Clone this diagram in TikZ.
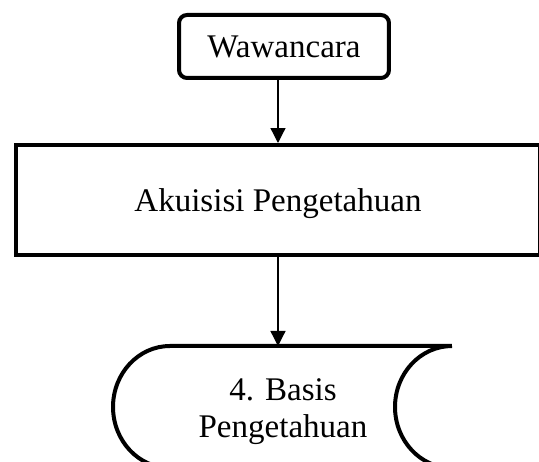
\documentclass[tikz,border=0pt]{standalone}
\usepackage{fontspec}
\setmainfont{Liberation Serif}
\usetikzlibrary{
		arrows.meta,
		positioning
	}
\tikzset{
		>={Triangle[length=3mm,width=3mm]},
		box/.style={draw, line width=0.08cm, inner sep=0pt, align=center,
			font=\fontsize{18.8}{21}\selectfont},
		flow/.style={->, line width=0.75pt}
	}

\begin{document}
\begin{tikzpicture}[x=0.02cm, y=0.02cm]
    % page area, everything outside is cut away
    \useasboundingbox (0,0) rectangle (539,462);
    \clip (0,0) rectangle (539,462);

    % the process boxes
    \node[box, rounded corners=0.16cm, minimum width=4.2cm, minimum height=1.26cm]
        (wwc) at (284,415.5) {Wawancara};
    \node[box, text depth=0pt, minimum width=10.48cm, minimum height=2.2cm]
        (akp) at (278,262) {Akuisisi Pengetahuan};

    % the stored data symbol (drawn by hand, its top edge is used for the arrow)
    \coordinate (bdtop) at (278,116);
    \draw[line width=0.08cm, line join=round]
        (452,116) -- (170,116)
        arc[start angle=90, end angle=270, x radius=1.14cm, y radius=1.22cm]
        -- (452,-6)
        arc[start angle=270, end angle=90, x radius=1.14cm, y radius=1.22cm];
    \node[align=center, font=\fontsize{18.8}{21}\selectfont] (bd) at (283,50)
        {4. Basis\\Pengetahuan};

    % draw the arrows
    \draw[flow] (akp.north |- wwc.south) -- (akp.north);
    \draw[flow] (akp.south) -- (bdtop);

\end{tikzpicture}
\end{document}
